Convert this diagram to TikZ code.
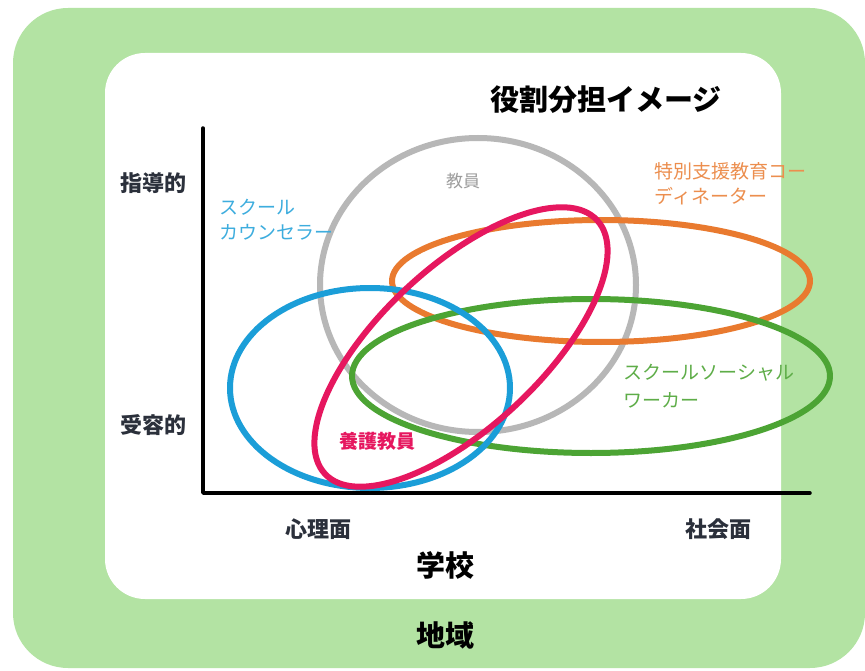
\documentclass[tikz,border=0pt]{standalone}
\usepackage{fontspec}
\setmainfont{Noto Sans CJK JP}
\definecolor{bggreen}{HTML}{B3E3A3}
\definecolor{ringgray}{HTML}{B7B7B7}
\definecolor{ringblue}{HTML}{1B9ED8}
\definecolor{ringorange}{HTML}{E97A2F}
\definecolor{ringgreen}{HTML}{4CA434}
\definecolor{ringpink}{HTML}{E6175F}
\definecolor{darktext}{HTML}{2B303B}
\tikzset{
  ring/.style={line width=6pt},
  axis/.style={line width=3.5pt,line cap=round},
  axislabel/.style={text=darktext,font=\fontsize{22}{26}\selectfont\bfseries},
  biglabel/.style={text=black,font=\fontsize{29}{34}\selectfont\bfseries},
  rolelabel/.style={align=left,anchor=west,font=\fontsize{19}{25}\selectfont}
}
\begin{document}
\begin{tikzpicture}[x=1pt,y=-1pt,line join=round]
  \useasboundingbox (0,0) rectangle (865,671);
  % frame: region and school
  \fill[bggreen,rounded corners=55pt] (13,8) rectangle (865,668);
  \fill[white,rounded corners=40pt] (105,53) rectangle (781,599);
  \node[biglabel] (title) at (606,100) {役割分担イメージ};
  % axes
  \coordinate (O) at (203,493);
  \coordinate (ytop) at (203,128);
  \coordinate (xend) at (810,493);
  \draw[axis] (ytop) -- (O) -- (xend);
  \node[axislabel] (ylead) at (153,183) {指導的};
  \node[axislabel] (yaccept) at (153,425) {受容的};
  \node[axislabel] (xpsy) at (318,529) {心理面};
  \node[axislabel] (xsoc) at (718,529) {社会面};
  % roles
  \draw[ring,ringgray] (478,285) ellipse [x radius=158, y radius=147];
  \draw[ring,ringorange] (601,281) ellipse [x radius=209, y radius=61];
  \draw[ring,ringgreen] (591,376) ellipse [x radius=239, y radius=77];
  \draw[ring,ringblue] (370,388) ellipse [x radius=140, y radius=100];
  \draw[ring,ringpink,rotate around={43:(461,347)}] (461,347) ellipse [x radius=186, y radius=80];
  \node[text=ringgray!85!black,font=\fontsize{17}{20}\selectfont] (teacher) at (463,181) {教員};
  \node[rolelabel,text=ringblue!85] (counselor) at (216,220) {スクール\\カウンセラー};
  \node[rolelabel,text=ringorange!85] (coord) at (651,184) {特別支援教育コー\\ディネーター};
  \node[rolelabel,text=ringgreen!90,font=\fontsize{19}{28}\selectfont] (worker) at (620,386) {スクールソーシャル\\ワーカー};
  \node[text=ringpink,font=\fontsize{19}{22}\selectfont\bfseries] (nurse) at (377,441) {養護教員};
  % bottom labels
  \node[biglabel] (school) at (445,565) {学校};
  \node[biglabel] (region) at (445,635) {地域};
\end{tikzpicture}
\end{document}
